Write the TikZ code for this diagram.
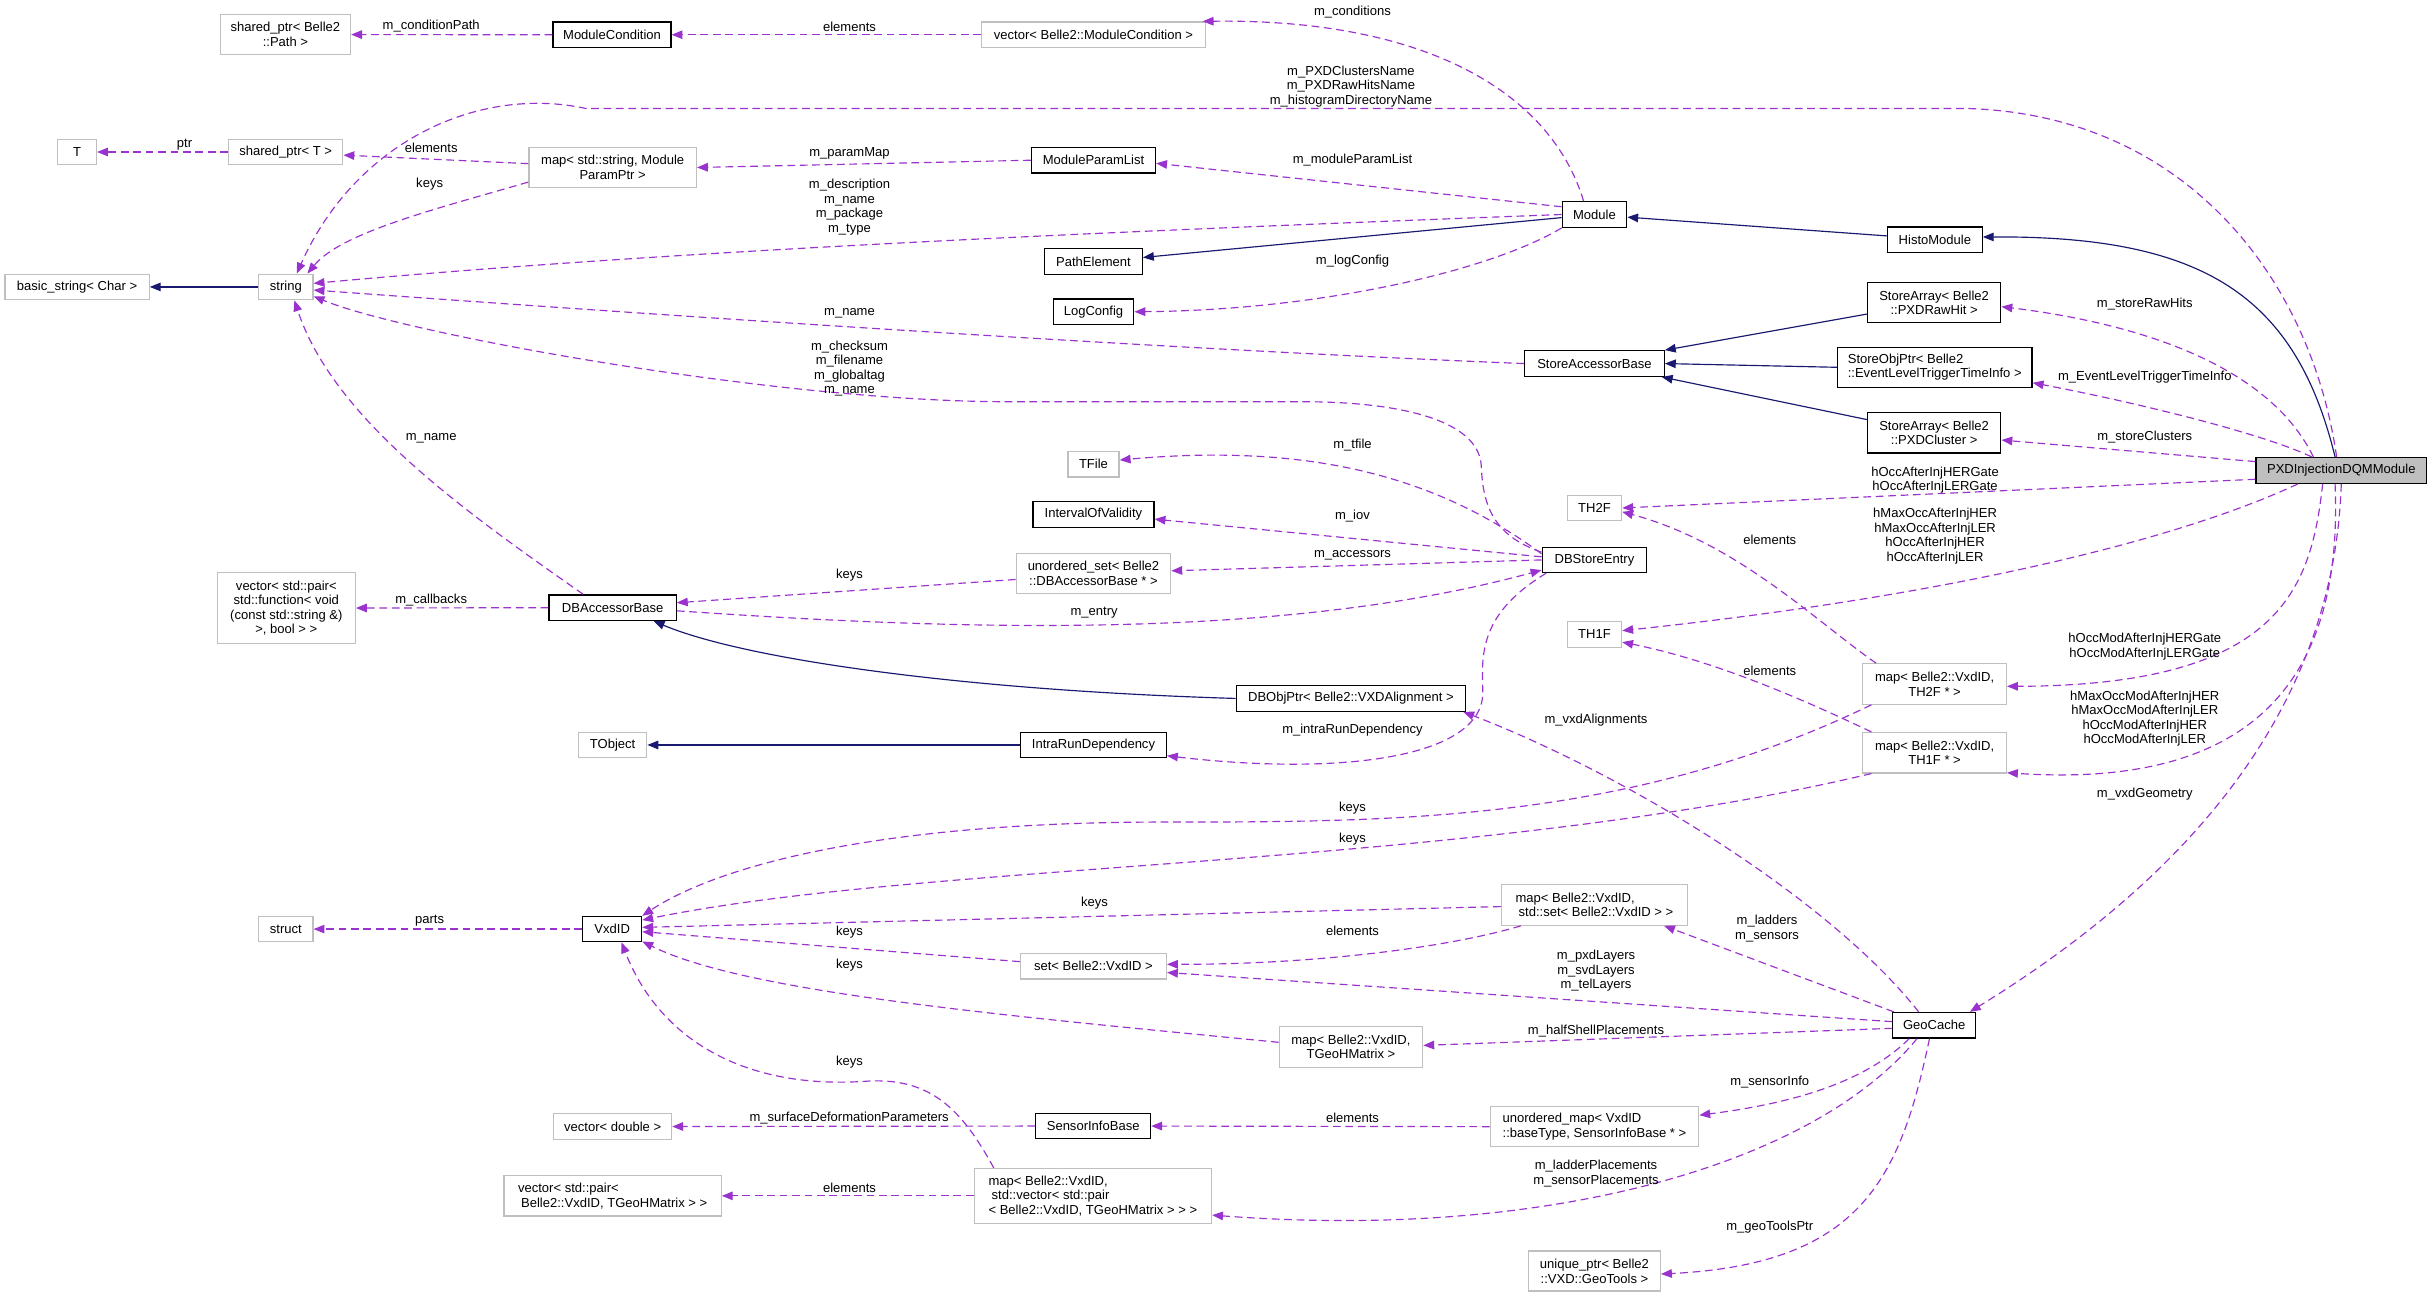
\documentclass[tikz,border=0pt]{standalone}
\usepackage{fontspec}
\usetikzlibrary{arrows.meta,calc}
\newfontfamily\lsans{Liberation Sans}
\newcommand\dxfont{\lsans\fontsize{8.4}{9.4}\selectfont}
\definecolor{purp}{HTML}{9A32CD}
\definecolor{navyc}{HTML}{191970}
\definecolor{extgray}{HTML}{BFBFBF}
\definecolor{maingray}{HTML}{BFBFBF}
\tikzset{
  box/.style={line width=0.8pt, inner sep=0pt, align=center, font=\dxfont, fill=white},
  cls/.style={box, draw=black},
  ext/.style={box, draw=extgray},
  mainc/.style={box, draw=black, fill=maingray},
  sz/.style 2 args={minimum width=#1pt, minimum height=#2pt},
  use/.style={draw=purp, line width=0.75pt, dash pattern=on 5pt off 3pt, -{Triangle[length=7pt,width=5.5pt]}},
  inh/.style={draw=navyc, line width=0.75pt, -{Triangle[length=7pt,width=5.5pt]}},
  lbl/.style={font=\dxfont, inner sep=0pt, align=center}
}
\begin{document}
\begin{tikzpicture}[x=1pt,y=-1pt]
\fill[white] (0,0) rectangle (1568,836);
\useasboundingbox (0,0) rectangle (1568,836);
% nodes
\node[ext,sz={84}{25.5}] (sptrpath) at (184,22.3) {shared\_ptr< Belle2\\::Path >};
\node[cls,sz={76}{16.3}] (modcond) at (394.6,22.4) {ModuleCondition};
\node[ext,sz={144}{16.5}] (vecmodcond) at (705,22.4) {vector< Belle2::ModuleCondition >};
\node[ext,sz={25}{16.5}] (tnode) at (49.7,98) {T};
\node[ext,sz={73.7}{16.5}] (sptrt) at (184.2,98) {shared\_ptr< T >};
\node[ext,sz={108}{26}] (mapstr) at (395,108) {map< std::string, Module\\ParamPtr >};
\node[cls,sz={80}{16.5}] (mplist) at (705,103.3) {ModuleParamList};
\node[ext,sz={93}{16.5}] (basicstr) at (49.7,185) {basic\_string< Char >};
\node[ext,sz={35}{16.5}] (string) at (184.3,185) {string};
\node[cls,sz={63}{16.5}] (pathel) at (705,168.5) {PathElement};
\node[cls,sz={52}{16.5}] (logcfg) at (705,201) {LogConfig};
\node[cls,sz={41.5}{16.5}] (module) at (1028,138.3) {Module};
\node[cls,sz={61}{16.5}] (histo) at (1247.5,154.6) {HistoModule};
\node[cls,sz={90}{16.5}] (sab) at (1028,234.4) {StoreAccessorBase};
\node[cls,sz={86}{25.8}] (sarawhit) at (1247,195.2) {StoreArray< Belle2\\::PXDRawHit >};
\node[cls,sz={125.5}{26},align=left] (sobj) at (1247.4,236.8) {StoreObjPtr< Belle2\\::EventLevelTriggerTimeInfo >};
\node[cls,sz={86}{26}] (saclus) at (1247,279) {StoreArray< Belle2\\::PXDCluster >};
\node[mainc,sz={110}{16.6}] (pxd) at (1509.5,303.3) {PXDInjectionDQMModule};
\node[ext,sz={33}{16.5}] (tfile) at (705,299.3) {TFile};
\node[cls,sz={78}{16.5}] (iov) at (705,331.7) {IntervalOfValidity};
\node[ext,sz={99.6}{25.8}] (uset) at (705,369.6) {unordered\_set< Belle2\\::DBAccessorBase * >};
\node[cls,sz={67.5}{16.3}] (dbse) at (1028,361) {DBStoreEntry};
\node[ext,sz={35}{16.5}] (th2f) at (1028,327.5) {TH2F};
\node[ext,sz={35}{16.5}] (th1f) at (1028,409) {TH1F};
\node[cls,sz={82}{16.5}] (dbab) at (395,391.8) {DBAccessorBase};
\node[ext,sz={89}{45.6}] (vecfunc) at (184.6,392) {vector< std::pair<\\std::function< void\\(const std::string \&)\\>, bool > >};
\node[cls,sz={148}{16.5}] (dbobj) at (871,450.3) {DBObjPtr< Belle2::VXDAlignment >};
\node[ext,sz={44}{16.5}] (tobject) at (395,480.3) {TObject};
\node[cls,sz={94}{16.5}] (intrarun) at (705,480.3) {IntraRunDependency};
\node[ext,sz={92.6}{26}] (map2f) at (1247.3,441) {map< Belle2::VxdID,\\TH2F * >};
\node[ext,sz={92.6}{26}] (map1f) at (1247.3,485.3) {map< Belle2::VxdID,\\TH1F * >};
\node[ext,sz={35}{16.5}] (structn) at (184.3,599) {struct};
\node[cls,sz={38}{16.3}] (vxdid) at (394.7,599) {VxdID};
\node[ext,sz={120}{26},align=left] (mapset) at (1028,583.5) {map< Belle2::VxdID,\\\hspace*{2pt}std::set< Belle2::VxdID > >};
\node[ext,sz={94}{16.5}] (setvxd) at (705,623) {set< Belle2::VxdID >};
\node[ext,sz={92.5}{26}] (mapgeoh) at (871,675) {map< Belle2::VxdID,\\TGeoHMatrix >};
\node[cls,sz={53.3}{16.5}] (geocache) at (1247,661) {GeoCache};
\node[ext,sz={76}{16.5}] (vecdouble) at (395,726.3) {vector< double >};
\node[cls,sz={74}{16.5}] (sib) at (704.8,726) {SensorInfoBase};
\node[ext,sz={134.4}{25.8},align=left] (umap) at (1028,726.4) {unordered\_map< VxdID\\::baseType, SensorInfoBase * >};
\node[ext,sz={140}{26},align=left] (vecpair) at (395,771) {vector< std::pair<\\\hspace*{2pt}Belle2::VxdID, TGeoHMatrix > >};
\node[ext,sz={153}{35.2},align=left] (mapvec) at (704.6,771) {map< Belle2::VxdID,\\\hspace*{2pt}std::vector< std::pair\\< Belle2::VxdID, TGeoHMatrix > > >};
\node[ext,sz={85}{25.8}] (uptr) at (1028,819.5) {unique\_ptr< Belle2\\::VXD::GeoTools >};
% inheritance
\draw[inh] ($(module.west)+(0,2)$) -- ($(pathel.east)+(0,-2.5)$);
\draw[inh] ($(histo.west)+(0,-2.5)$) -- ($(module.east)+(0,1.7)$);
\draw[inh] ($(pxd.north)+(-4,0)$) .. controls (1480,190) and (1420,152) .. ($(histo.east)+(0,-1.8)$);
\draw[inh] (string.west) -- (basicstr.east);
\draw[inh] ($(sarawhit.west)+(0,7.3)$) -- (sab.north east);
\draw[inh] (sobj.west) -- (sab.east);
\draw[inh] ($(saclus.west)+(0,-8.5)$) -- ($(sab.south east)+(-2,0)$);
\draw[inh] (dbobj.west) .. controls (620,445) and (480,425) .. ($(dbab.south east)+(-15,0)$);
\draw[inh] (intrarun.west) -- (tobject.east);
% usage
\draw[use] (modcond.west) -- (sptrpath.east);
\draw[use] (vecmodcond.west) -- (modcond.east);
\draw[use] ($(module.north)+(-7,0)$) .. controls (1000,60) and (920,12) .. ($(vecmodcond.north east)+(-2,0)$);
\draw[use] ($(pxd.north)+(-3,0)$) .. controls (1490,180) and (1410,75) .. (1270,70) -- (378,70) .. controls (310,55) and (230,90) .. ($(string.north)+(7,0)$);
\draw[use] (sptrt.west) -- (tnode.east);
\draw[use] ($(mapstr.west)+(0,-2.5)$) -- ($(sptrt.east)+(0,2)$);
\draw[use] ($(mapstr.south west)+(0,-4)$) .. controls (280,135) and (220,150) .. ($(string.north east)+(-4,0)$);
\draw[use] (mplist.west) -- (mapstr.east);
\draw[use] ($(module.west)+(0,-5)$) -- ($(mplist.east)+(0,2)$);
\draw[use] (module.west) .. controls (750,148) and (450,160) .. ($(string.east)+(0,-2.3)$);
\draw[use] (module.south west) .. controls (960,175) and (850,200) .. (logcfg.east);
\draw[use] (sab.west) .. controls (750,225) and (450,205) .. ($(string.east)+(0,2)$);
\draw[use] ($(dbse.west)+(0,-5)$) .. controls (962,345) and (956,325) .. (955,300) .. controls (953,270) and (900,259) .. (840,259) -- (650,259) .. controls (500,259) and (260,215) .. ($(string.east)+(0,6)$);
\draw[use] ($(dbse.west)+(0,-4)$) .. controls (930,310) and (850,285) .. ($(tfile.east)+(0,-2.7)$);
\draw[use] ($(dbse.west)+(0,-2)$) -- ($(iov.east)+(0,3)$);
\draw[use] (dbse.west) -- ($(uset.east)+(0,-1.6)$);
\draw[use] ($(uset.west)+(0,4)$) -- ($(dbab.east)+(0,-3.2)$);
\draw[use] ($(dbab.east)+(0,2)$) .. controls (600,405) and (820,415) .. ($(dbse.south west)+(0,-2)$);
\draw[use] ($(dbse.south west)+(3,0)$) .. controls (955,395) and (955,420) .. (956,445) .. controls (958,490) and (860,500) .. ($(intrarun.south east)+(0,-1.7)$);
\draw[use] (dbab.west) -- (vecfunc.east);
\draw[use] ($(dbab.north)+(-19,0)$) .. controls (300,330) and (215,270) .. ($(string.south)+(5.5,0)$);
\draw[use] ($(pxd.south west)+(0,-3)$) -- (th2f.east);
\draw[use] ($(pxd.south)+(-28,0)$) .. controls (1400,350) and (1250,385) .. ($(th1f.east)+(0,-2.4)$);
\draw[use] ($(map2f.north west)+(9,0)$) .. controls (1170,400) and (1120,350) .. ($(th2f.east)+(0,2.5)$);
\draw[use] ($(map1f.north west)+(6,0)$) .. controls (1150,445) and (1100,425) .. ($(th1f.east)+(0,5)$);
\draw[use] ($(pxd.south)+(-12,0)$) .. controls (1490,380) and (1470,442) .. ($(map2f.east)+(0,1.5)$);
\draw[use] ($(pxd.south)+(-4,0)$) .. controls (1510,420) and (1470,510) .. ($(map1f.south east)+(0,-0.5)$);
\draw[use] (pxd.south) .. controls (1505,450) and (1420,560) .. ($(geocache.north east)+(-4,0)$);
\draw[use] ($(map2f.south west)+(6,0)$) .. controls (1050,530) and (900,530) .. (750,530) .. controls (560,530) and (460,560) .. (vxdid.north east);
\draw[use] ($(map1f.south west)+(6,0)$) .. controls (950,560) and (600,555) .. ($(vxdid.east)+(0,-5.8)$);
\draw[use] (vxdid.west) -- (structn.east);
\draw[use] ($(mapset.west)+(0,1)$) -- ($(vxdid.east)+(0,-1.1)$);
\draw[use] ($(mapset.south west)+(13,0)$) .. controls (930,612) and (840,622) .. ($(setvxd.east)+(0,-1.3)$);
\draw[use] ($(setvxd.west)+(0,-3)$) -- ($(vxdid.east)+(0,1.7)$);
\draw[use] ($(geocache.west)+(0,-2.3)$) -- ($(setvxd.east)+(0,4)$);
\draw[use] ($(geocache.west)+(0,2)$) -- ($(mapgeoh.east)+(0,-1)$);
\draw[use] ($(mapgeoh.west)+(0,-3)$) .. controls (650,655) and (480,640) .. ($(vxdid.south east)+(0,-0.6)$);
\draw[use] ($(mapvec.north west)+(13,0)$) .. controls (620,715) and (600,695) .. (560,697) .. controls (480,703) and (425,670) .. ($(vxdid.south)+(6,0)$);
\draw[use] (sib.west) -- (vecdouble.east);
\draw[use] (umap.west) -- (sib.east);
\draw[use] ($(geocache.south west)+(11,0)$) .. controls (1200,700) and (1150,712) .. ($(umap.east)+(0,-7.4)$);
\draw[use] ($(geocache.south west)+(16,0)$) .. controls (1170,750) and (1000,800) .. ($(mapvec.east)+(0,12.4)$);
\draw[use] ($(geocache.south)+(-3,0)$) .. controls (1225,760) and (1200,815) .. ($(uptr.east)+(0,1.9)$);
\draw[use] (mapvec.west) -- (vecpair.east);
\draw[use] ($(geocache.north west)+(1,0)$) -- ($(mapset.south east)+(-15.5,0)$);
\draw[use] ($(geocache.north)+(-10,0)$) .. controls (1180,580) and (1050,500) .. ($(dbobj.south east)+(-2,0)$);
\draw[use] ($(pxd.north)+(-19,0)$) .. controls (1460,280) and (1380,260) .. ($(sobj.east)+(0,10)$);
\draw[use] ($(pxd.north)+(-18,0)$) .. controls (1465,240) and (1390,210) .. ($(sarawhit.east)+(0,2.5)$);
\draw[use] ($(pxd.north west)+(0,3)$) -- ($(saclus.east)+(0,4.7)$);
% labels
\node[lbl] (l1) at (278,17) {m\_conditionPath};
\node[lbl] (l2) at (547.7,17) {elements};
\node[lbl] (l3) at (872,7.5) {m\_conditions};
\node[lbl] (l4) at (871,55.7) {m\_PXDClustersName\\m\_PXDRawHitsName\\m\_histogramDirectoryName};
\node[lbl] (l5) at (119,93) {ptr};
\node[lbl] (l6) at (278,95) {elements};
\node[lbl] (l7) at (277,119) {keys};
\node[lbl] (l8) at (547.7,98.9) {m\_paramMap};
\node[lbl] (l9) at (872,103) {m\_moduleParamList};
\node[lbl] (l10) at (547.7,133.6) {m\_description\\m\_name\\m\_package\\m\_type};
\node[lbl] (l11) at (872,168.3) {m\_logConfig};
\node[lbl] (l12) at (547.7,202) {m\_name};
\node[lbl] (l13) at (547.7,237.6) {m\_checksum\\m\_filename\\m\_globaltag\\m\_name};
\node[lbl] (l14) at (872,287) {m\_tfile};
\node[lbl] (l15) at (872,332.7) {m\_iov};
\node[lbl] (l16) at (872,357.8) {m\_accessors};
\node[lbl] (l17) at (547.7,371) {keys};
\node[lbl] (l18) at (705.4,395) {m\_entry};
\node[lbl] (l19) at (872,471) {m\_intraRunDependency};
\node[lbl] (l20) at (278,386.8) {m\_callbacks};
\node[lbl] (l21) at (278,282.8) {m\_name};
\node[lbl] (l22) at (1247.6,309.5) {hOccAfterInjHERGate\\hOccAfterInjLERGate};
\node[lbl] (l23) at (1247.6,345.7) {hMaxOccAfterInjHER\\hMaxOccAfterInjLER\\hOccAfterInjHER\\hOccAfterInjLER};
\node[lbl] (l24) at (1141,348) {elements};
\node[lbl] (l25) at (1141,432.4) {elements};
\node[lbl] (l26) at (1382.8,417) {hOccModAfterInjHERGate\\hOccModAfterInjLERGate};
\node[lbl] (l27) at (1382.8,463.3) {hMaxOccModAfterInjHER\\hMaxOccModAfterInjLER\\hOccModAfterInjHER\\hOccModAfterInjLER};
\node[lbl] (l28) at (1382.8,512) {m\_vxdGeometry};
\node[lbl] (l29) at (872,520.8) {keys};
\node[lbl] (l30) at (872,541) {keys};
\node[lbl] (l31) at (277,593.8) {parts};
\node[lbl] (l32) at (705.6,582.4) {keys};
\node[lbl] (l33) at (872,600) {elements};
\node[lbl] (l34) at (547.7,600.7) {keys};
\node[lbl] (l35) at (1029,625.8) {m\_pxdLayers\\m\_svdLayers\\m\_telLayers};
\node[lbl] (l36) at (1029,664.5) {m\_halfShellPlacements};
\node[lbl] (l37) at (547.7,622) {keys};
\node[lbl] (l38) at (547.7,685) {keys};
\node[lbl] (l39) at (547.5,721) {m\_surfaceDeformationParameters};
\node[lbl] (l40) at (872,721) {elements};
\node[lbl] (l41) at (1141,697.8) {m\_sensorInfo};
\node[lbl] (l42) at (1029,756.8) {m\_ladderPlacements\\m\_sensorPlacements};
\node[lbl] (l43) at (1141,791) {m\_geoToolsPtr};
\node[lbl] (l44) at (547.7,765.8) {elements};
\node[lbl] (l45) at (1139.3,598.6) {m\_ladders\\m\_sensors};
\node[lbl] (l46) at (1029,464) {m\_vxdAlignments};
\node[lbl] (l47) at (1382.8,242.9) {m\_EventLevelTriggerTimeInfo};
\node[lbl] (l48) at (1382.8,196.2) {m\_storeRawHits};
\node[lbl] (l49) at (1382.8,281.5) {m\_storeClusters};
\end{tikzpicture}
\end{document}
